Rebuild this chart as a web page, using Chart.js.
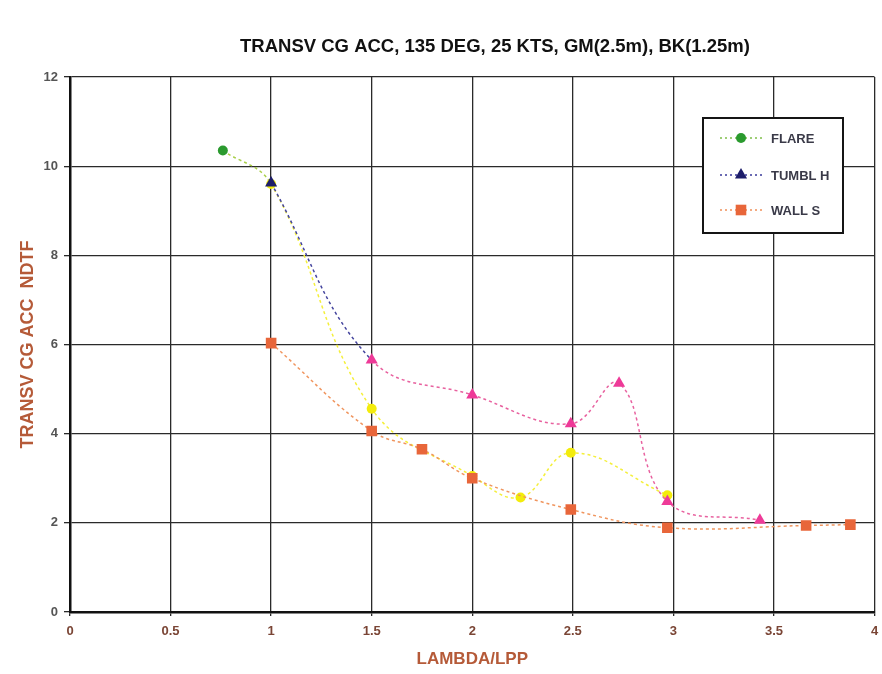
<!DOCTYPE html>
<html><head><meta charset="utf-8">
<script src="https://cdn.jsdelivr.net/npm/chart.js@4/dist/chart.umd.min.js"></script>
<style>html,body{margin:0;padding:0;background:#fff}#wrap{width:882px;height:674px}</style>
</head><body><div id="wrap"><canvas id="c" width="882" height="674"></canvas></div>
<script>
const chartTitle = 'TRANSV CG ACC, 135 DEG, 25 KTS, GM(2.5m), BK(1.25m)';
const xTitle = 'LAMBDA/LPP';
const yTitle = 'TRANSV CG ACC  NDTF';
const seriesNames = ['FLARE', 'TUMBL H', 'WALL S'];
const flareX = [0.76, 1.0, 1.5, 2.0, 2.24, 2.49, 2.97];
const flareY = [10.35, 9.6, 4.56, 3.05, 2.57, 3.57, 2.62];
const tumblX = [1.0, 1.5, 2.0, 2.49, 2.73, 2.97, 3.43];
const tumblY = [9.62, 5.65, 4.87, 4.22, 5.13, 2.48, 2.06];
const wallX = [1.0, 1.5, 1.75, 2.0, 2.49, 2.97, 3.66, 3.88];
const wallY = [6.03, 4.06, 3.65, 3.0, 2.3, 1.89, 1.94, 1.96];
const xTicks = [0, 0.5, 1, 1.5, 2, 2.5, 3, 3.5, 4];
const yTicks = [0, 2, 4, 6, 8, 10, 12];

const NARROW = '"Liberation Sans Narrow", "Arial Narrow", "Liberation Sans", Arial, sans-serif';
const toPts = (xs, ys) => xs.map((x, i) => ({x: x, y: ys[i]}));

const flarePointColors = flareX.map((_, i) => i === 0 ? '#2a9a2e' : '#f3ec0c');
const tumblPointColors = tumblX.map((_, i) => i === 0 ? '#1e1e6a' : '#ee3a98');

const legendItems = [
  {name: seriesNames[0], line: '#7fbf4a', fill: '#2a9a2e', style: 'circle', r: 5},
  {name: seriesNames[1], line: '#3a3a9a', fill: '#1e1e6a', style: 'triangle', r: 7},
  {name: seriesNames[2], line: '#f0905a', fill: '#e8663a', style: 'rect', r: 7.5}
];

const overlay = {
  id: 'overlay',
  afterDraw(chart) {
    const ctx = chart.ctx;
    ctx.save();
    ctx.fillStyle = '#111';
    ctx.font = 'bold 18.5px ' + NARROW;
    ctx.textAlign = 'center';
    ctx.textBaseline = 'middle';
    ctx.fillText(chartTitle, 495, 47);
    const bx = 703, by = 118, bw = 140, bh = 115;
    ctx.fillStyle = '#fff';
    ctx.fillRect(bx, by, bw, bh);
    ctx.strokeStyle = '#151515';
    ctx.lineWidth = 2;
    ctx.strokeRect(bx, by, bw, bh);
    const rows = [138, 175, 210];
    legendItems.forEach((it, i) => {
      const y = rows[i];
      ctx.save();
      ctx.strokeStyle = it.line;
      ctx.lineWidth = 1.5;
      ctx.setLineDash([2, 3]);
      ctx.beginPath();
      ctx.moveTo(720, y);
      ctx.lineTo(765, y);
      ctx.stroke();
      ctx.restore();
      ctx.fillStyle = it.fill;
      ctx.beginPath();
      if (it.style === 'circle') { ctx.arc(741, y, it.r, 0, Math.PI * 2); }
      else if (it.style === 'triangle') { ctx.moveTo(741, y - it.r); ctx.lineTo(741 + it.r * 0.866, y + it.r * 0.5); ctx.lineTo(741 - it.r * 0.866, y + it.r * 0.5); ctx.closePath(); }
      else { const s = it.r * Math.SQRT1_2; ctx.rect(741 - s, y - s, 2 * s, 2 * s); }
      ctx.fill();
      ctx.fillStyle = '#3a3a48';
      ctx.font = 'bold 13px ' + NARROW;
      ctx.textAlign = 'left';
      ctx.textBaseline = 'middle';
      ctx.fillText(it.name, 771, y + 1);
    });
    ctx.restore();
  }
};

new Chart(document.getElementById('c'), {
  type: 'line',
  data: {
    datasets: [
      {
        label: seriesNames[0], data: toPts(flareX, flareY), order: 2,
        pointStyle: 'circle', pointRadius: 5, pointBackgroundColor: flarePointColors, pointBorderColor: flarePointColors, pointBorderWidth: 0,
        borderWidth: 1.5, borderDash: [3, 3], tension: 0.4, fill: false,
        segment: { borderColor: c => c.p0DataIndex === 0 ? '#a9cf4a' : '#f4ef3a' }
      },
      {
        label: seriesNames[1], data: toPts(tumblX, tumblY), order: 1,
        pointStyle: 'triangle', pointRadius: 7, pointBackgroundColor: tumblPointColors, pointBorderColor: tumblPointColors, pointBorderWidth: 0,
        borderWidth: 1.5, borderDash: [3, 3], tension: 0.4, fill: false,
        segment: { borderColor: c => c.p0DataIndex === 0 ? '#45459e' : '#e8619f' }
      },
      {
        label: seriesNames[2], data: toPts(wallX, wallY), order: 0,
        pointStyle: 'rect', pointRadius: 7.5, pointBackgroundColor: '#e8663a', pointBorderColor: '#e8663a', pointBorderWidth: 0,
        borderColor: '#f0955e', borderWidth: 1.5, borderDash: [3, 3], tension: 0.4, fill: false
      }
    ]
  },
  options: {
    responsive: false, animation: false, devicePixelRatio: 1,
    layout: { padding: { top: 77, right: 4, left: 0, bottom: 0 } },
    plugins: { legend: { display: false }, title: { display: false }, tooltip: { enabled: false } },
    scales: {
      x: {
        type: 'linear', min: 0, max: 4,
        afterFit: s => { s.height = 62; s.paddingLeft = 0; s.paddingRight = 0; },
        afterBuildTicks: s => { s.ticks = xTicks.map(v => ({value: v})); },
        ticks: { color: '#7a4535', font: { family: NARROW, size: 13, weight: 'bold' }, padding: 8, maxRotation: 0, callback: v => String(v) },
        grid: { color: '#2a2a2a', lineWidth: 1.3, tickLength: 4 },
        border: { color: '#111', width: 2.5 },
        title: { display: true, text: xTitle, color: '#b55a38', font: { family: NARROW, size: 17, weight: 'bold' }, padding: { top: 0, bottom: 4 } }
      },
      y: {
        type: 'linear', min: 0, max: 12,
        afterFit: s => { s.width = 70; s.paddingTop = 0; s.paddingBottom = 0; },
        afterBuildTicks: s => { s.ticks = yTicks.map(v => ({value: v})); },
        ticks: { color: '#555', font: { family: NARROW, size: 13, weight: 'bold' }, padding: 6, callback: v => String(v) },
        grid: { color: '#2a2a2a', lineWidth: 1.3, tickLength: 6 },
        border: { color: '#111', width: 2.5 },
        title: { display: true, text: yTitle, color: '#b55a38', font: { family: NARROW, size: 18, weight: 'bold' }, padding: { top: 17, bottom: 0 } }
      }
    }
  },
  plugins: [overlay]
});
</script>
</body></html>
